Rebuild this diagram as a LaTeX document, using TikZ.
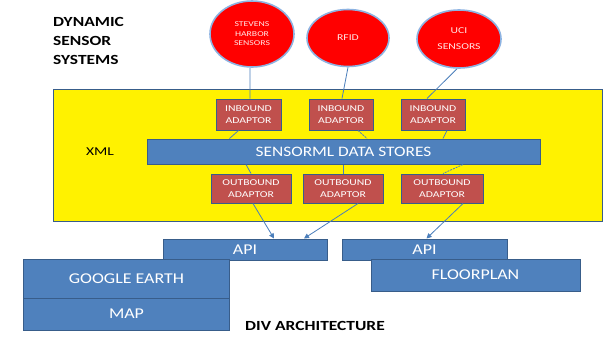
\documentclass[tikz,border=0pt]{standalone}
\usepackage{fontspec}
\setmainfont{Carlito}
\newfontfamily\widefont[FakeStretch=1.2]{Carlito}
\newfontfamily\widerfont[FakeStretch=1.3]{Carlito}
\newfontfamily\titlefont[FakeStretch=1.25]{Carlito}
\usetikzlibrary{shapes.geometric,arrows.meta}
\definecolor{frameblue}{HTML}{385D8A}
\definecolor{barblue}{HTML}{4F81BD}
\definecolor{adaptred}{HTML}{C0504D}
\definecolor{halo}{HTML}{8DB3E2}
\definecolor{wire}{HTML}{4A7EBB}
\tikzset{
  sensor/.style={ellipse, fill=red, draw=halo, line width=1.6bp, inner sep=0pt,
    text=white!90!red, align=center},
  adaptor/.style={rectangle, fill=adaptred, draw=frameblue, line width=1bp, inner sep=0pt,
    text=white, font=\widerfont\fontsize{9}{12}\selectfont, align=center},
  bar/.style={rectangle, fill=barblue, draw=frameblue, line width=1bp, inner sep=0pt,
    text=white, align=center},
  client/.style={bar, font=\widefont\fontsize{15}{17}\selectfont},
  conn/.style={draw=wire, line width=0.8bp},
  feed/.style={conn, -{Triangle[width=5bp,length=5bp]}},
  title/.style={font=\titlefont\bfseries\fontsize{14}{19}\selectfont, text=black, align=left}
}
\begin{document}
\begin{tikzpicture}[x=1bp,y=-1bp]
  \useasboundingbox[fill=white] (0,0) rectangle (605,337);

  % XML layer
  \node[rectangle, fill=yellow, draw=frameblue, line width=1bp, minimum width=548bp,
        minimum height=132bp, inner sep=0pt] (xml) at (328,155) {};
  \node[font=\widerfont\fontsize{12}{14}\selectfont] (xmllbl) at (100,152) {XML};

  % sensor sources
  \node[sensor, minimum width=84bp, minimum height=66bp,
        font=\widerfont\fontsize{7.5}{9.5}\selectfont] (e1) at (252,34) {STEVENS\\HARBOR\\SENSORS};
  \node[sensor, minimum width=82bp, minimum height=57bp,
        font=\widerfont\fontsize{9}{11}\selectfont] (e2) at (348,38) {RFID};
  \node[sensor, minimum width=84bp, minimum height=58bp,
        font=\widerfont\fontsize{9}{16}\selectfont] (e3) at (459,39) {UCI\\SENSORS};

  % inbound adaptors
  \node[adaptor, minimum width=65bp, minimum height=31bp] (inb1) at (248.5,114.5) {INBOUND\\ADAPTOR};
  \node[adaptor, minimum width=64bp, minimum height=31bp] (inb2) at (341,114.5) {INBOUND\\ADAPTOR};
  \node[adaptor, minimum width=64bp, minimum height=31bp] (inb3) at (433,114.5) {INBOUND\\ADAPTOR};

  % data store
  \node[bar, minimum width=393bp, minimum height=25bp,
        font=\widefont\fontsize{14.5}{16}\selectfont] (sml) at (343.5,151.5) {SENSORML DATA STORES};

  % outbound adaptors
  \node[adaptor, minimum width=80bp, minimum height=29bp] (out1) at (251,188.5) {OUTBOUND\\ADAPTOR};
  \node[adaptor, minimum width=80bp, minimum height=29bp] (out2) at (343,188.5) {OUTBOUND\\ADAPTOR};
  \node[adaptor, minimum width=82bp, minimum height=29bp] (out3) at (442,188.5) {OUTBOUND\\ADAPTOR};

  % client side
  \node[client, minimum width=164bp, minimum height=21bp] (apiL) at (245,249.5) {API};
  \node[client, minimum width=165bp, minimum height=21bp] (apiR) at (424.5,249.5) {API};
  \node[client, minimum width=205bp, minimum height=39bp] (ge) at (126.5,278.5) {GOOGLE EARTH};
  \node[client, minimum width=205bp, minimum height=32bp] (map) at (126.5,314) {MAP};
  \node[client, minimum width=209bp, minimum height=32bp] (floor) at (475.5,275) {FLOORPLAN};

  % titles
  \node[title, anchor=north west, inner sep=0pt] (dss) at (53,17) {DYNAMIC\\SENSOR\\SYSTEMS};
  \node[title] (div) at (315,326) {DIV ARCHITECTURE};

  % sensors to inbound adaptors
  \draw[conn] ([xshift=-2bp]e1.south) -- ([xshift=1.5bp]inb1.north);
  \draw[conn] (e2.south) -- ([xshift=1bp]inb2.north);
  \draw[conn] ([xshift=-2bp]e3.south) -- ([xshift=-6bp]inb3.north);

  % inbound adaptors to data store
  \draw[conn] ([xshift=-10bp]inb1.south) -- ([xshift=-19bp]inb1.south |- sml.north);
  \draw[conn, dash pattern=on 2bp off 1bp] ([xshift=17bp]inb2.south) -- ([xshift=26bp]inb2.south |- sml.north);
  \draw[conn] ([xshift=14bp]inb3.south) -- ([xshift=10bp]inb3.south |- sml.north);

  % data store to outbound adaptors
  \draw[conn] ([xshift=-5bp]out1.north |- sml.south) -- (out1.north);
  \draw[conn] (out2.north |- sml.south) -- (out2.north);
  \draw[conn, dash pattern=on 2bp off 1bp] ([xshift=21bp]out3.north |- sml.south) -- ([xshift=1bp]out3.north);

  % outbound adaptors to the APIs
  \draw[feed] ([xshift=2bp]out1.south) -- ([xshift=29bp]apiL.north);
  \draw[feed] ([xshift=15bp]out2.south) -- ([xshift=59bp]apiL.north);
  \draw[feed] ([xshift=21bp]out3.south) -- ([xshift=2bp]apiR.north);
\end{tikzpicture}
\end{document}
